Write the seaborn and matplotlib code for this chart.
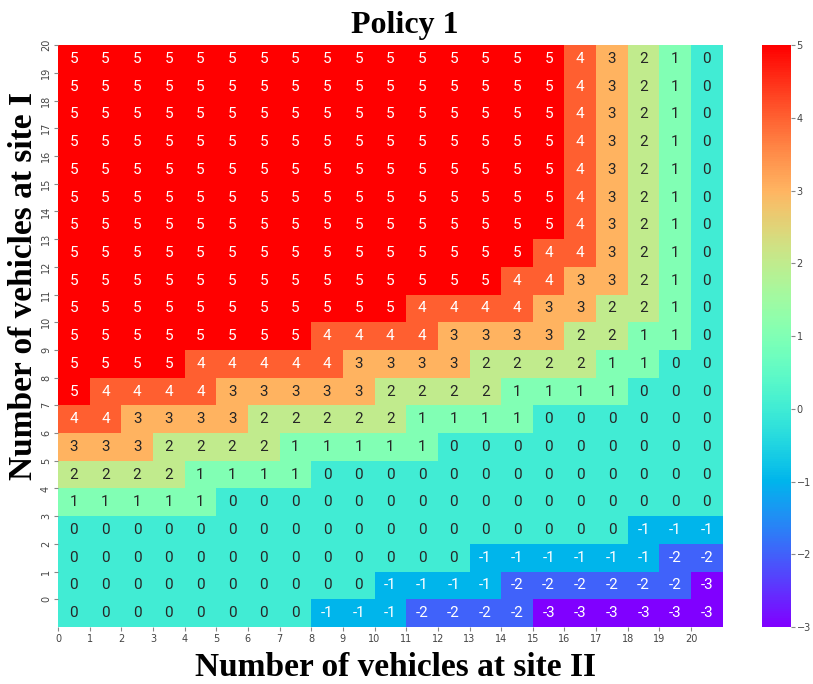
import numpy as np
import pandas as pd
import matplotlib
matplotlib.use("Agg")
import matplotlib.pyplot as plt
import seaborn as sns

# Rows listed from top (site I = 20) to bottom (site I = 0); columns site II = 0..20
row_s20 = [5]*16 + [4, 3, 2, 1, 0]
row_s19 = [5]*16 + [4, 3, 2, 1, 0]
row_s18 = [5]*16 + [4, 3, 2, 1, 0]
row_s17 = [5]*16 + [4, 3, 2, 1, 0]
row_s16 = [5]*16 + [4, 3, 2, 1, 0]
row_s15 = [5]*16 + [4, 3, 2, 1, 0]
row_s14 = [5]*16 + [4, 3, 2, 1, 0]
row_s13 = [5]*15 + [4, 4, 3, 2, 1, 0]
row_s12 = [5]*14 + [4, 4, 3, 3, 2, 1, 0]
row_s11 = [5]*11 + [4, 4, 4, 4, 3, 3, 2, 2, 1, 0]
row_s10 = [5]*8 + [4, 4, 4, 4, 3, 3, 3, 3, 2, 2, 1, 1, 0]
row_s9 = [5]*4 + [4]*5 + [3]*4 + [2]*4 + [1, 1, 0, 0]
row_s8 = [5] + [4]*4 + [3]*5 + [2]*4 + [1]*4 + [0]*3
row_s7 = [4, 4] + [3]*4 + [2]*5 + [1]*4 + [0]*6
row_s6 = [3]*3 + [2]*4 + [1]*5 + [0]*9
row_s5 = [2]*4 + [1]*4 + [0]*13
row_s4 = [1]*5 + [0]*16
row_s3 = [0]*18 + [-1]*3
row_s2 = [0]*13 + [-1]*6 + [-2]*2
row_s1 = [0]*10 + [-1]*4 + [-2]*6 + [-3]
row_s0 = [0]*8 + [-1]*3 + [-2]*4 + [-3]*6

rows = [row_s20, row_s19, row_s18, row_s17, row_s16, row_s15, row_s14,
        row_s13, row_s12, row_s11, row_s10, row_s9, row_s8, row_s7,
        row_s6, row_s5, row_s4, row_s3, row_s2, row_s1, row_s0]

x_labels = [str(i) for i in range(21)]
y_labels = [str(i) for i in range(20, -1, -1)]
cbar_ticks = [-3, -2, -1, 0, 1, 2, 3, 4, 5]

df = pd.DataFrame(np.array(rows), index=y_labels, columns=x_labels)

fig = plt.figure(figsize=(8.13, 6.84), dpi=100)
ax = fig.add_axes([0.0713, 0.0833, 0.8177, 0.8507])
cax = fig.add_axes([0.937, 0.0833, 0.036, 0.8507])

sns.heatmap(df, ax=ax, cbar_ax=cax, cmap="rainbow", vmin=-3, vmax=5,
            annot=True, fmt="d",
            annot_kws={"fontsize": 11, "family": "Roboto"},
            cbar_kws={"ticks": cbar_ticks})

ax.set_xticks(np.arange(21))
ax.set_xticklabels(x_labels, fontsize=7, rotation=0, color="#444444")
ax.set_yticks(np.arange(21))
ax.set_yticklabels(y_labels, fontsize=7, rotation=90, va="center", color="#444444")
ax.tick_params(axis="both", length=3, width=0.8, color="#888888", pad=2)

ax.set_xlabel("Number of vehicles at site II", fontsize=24, fontweight="bold",
              family="Liberation Serif")
ax.xaxis.set_label_coords(0.507, -0.043)
ax.xaxis.label.set_va("top")
ax.set_ylabel("Number of vehicles at site I", fontsize=24, fontweight="bold",
              family="Liberation Serif")
ax.yaxis.set_label_coords(-0.028, 0.586)
ax.set_title("Policy 1", fontsize=23, fontweight="bold", family="Liberation Serif",
             x=0.522, pad=9)

cax.tick_params(labelsize=7, length=3, pad=1, color="#888888", labelcolor="#444444")
for s in cax.spines.values():
    s.set_visible(False)

fig.savefig("out.png", dpi=100)
